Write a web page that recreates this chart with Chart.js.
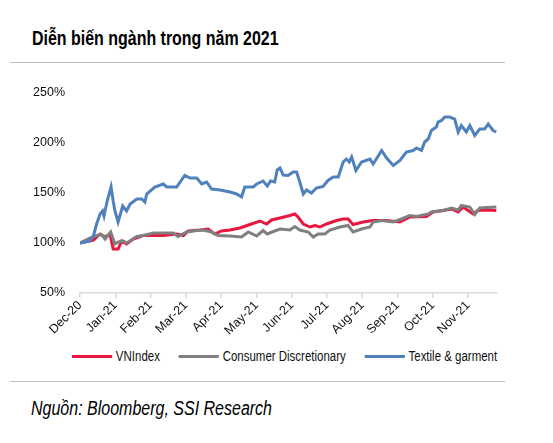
<!DOCTYPE html>
<html>
<head>
<meta charset="utf-8">
<script src="https://cdn.jsdelivr.net/npm/chart.js@4.4.1/dist/chart.umd.min.js"></script>
<style>
  body { margin: 0; background: #fff; width: 553px; height: 443px; overflow: hidden; position: relative; }
  .title { position: absolute; left: 32px; top: 26px; font: bold 21px "Liberation Sans", Arial, sans-serif; color: #000; white-space: nowrap; transform: scaleX(0.76); transform-origin: 0 0; }
  .rule { position: absolute; left: 10px; width: 495px; height: 0; border-top: 1.5px solid #bfbfbf; }
  .source { position: absolute; left: 31px; top: 397px; font: italic 20px "Liberation Sans", Arial, sans-serif; color: #000; white-space: nowrap; transform: scaleX(0.8); transform-origin: 0 0; }
  #wrap { position: absolute; left: 0; top: 70px; width: 553px; height: 275px; }
  #legend { position: absolute; left: 72px; top: 347px; height: 18px; display: flex; align-items: center; white-space: nowrap;
            font: 14px "Liberation Sans", Arial, sans-serif; color: #111; transform: scaleX(0.82); transform-origin: 0 0; }
  #legend .item { display: flex; align-items: center; margin-right: 23px; }
  #legend .swatch { width: 49px; height: 3px; margin-right: 4.5px; }
</style>
</head>
<body>
<div class="title">Diễn biến ngành trong năm 2021</div>
<div class="rule" style="top:62px"></div>
<div id="wrap"><canvas id="sector-diagram"></canvas></div>
<div id="legend"></div>
<div class="rule" style="top:381px"></div>
<div class="source">Nguồn: Bloomberg, SSI Research</div>
<script>
// x = months since the Dec-20 tick, y = index level (%)
const monthLabels = ['Dec-20', 'Jan-21', 'Feb-21', 'Mar-21', 'Apr-21', 'May-21', 'Jun-21', 'Jul-21', 'Aug-21', 'Sep-21', 'Oct-21', 'Nov-21'];

const vnIndex = [
    {x: 0, y: 100}, {x: 0.38, y: 103}, {x: 0.57, y: 109}, {x: 0.71, y: 106}, {x: 0.85, y: 109},
    {x: 0.94, y: 94}, {x: 1.08, y: 94}, {x: 1.18, y: 102}, {x: 1.32, y: 99}, {x: 1.51, y: 104},
    {x: 1.79, y: 107.5}, {x: 2.08, y: 107.5}, {x: 2.36, y: 107.5}, {x: 2.74, y: 109}, {x: 2.93, y: 107.5},
    {x: 3.07, y: 112}, {x: 3.40, y: 113}, {x: 3.63, y: 114}, {x: 3.82, y: 109}, {x: 4.01, y: 112},
    {x: 4.25, y: 113}, {x: 4.53, y: 115}, {x: 4.82, y: 118.5}, {x: 5.10, y: 122}, {x: 5.29, y: 119},
    {x: 5.43, y: 123}, {x: 5.67, y: 125}, {x: 5.95, y: 127.5}, {x: 6.09, y: 129}, {x: 6.18, y: 126},
    {x: 6.33, y: 119}, {x: 6.52, y: 116}, {x: 6.66, y: 117.5}, {x: 6.80, y: 116}, {x: 6.99, y: 119},
    {x: 7.27, y: 122.5}, {x: 7.46, y: 124}, {x: 7.60, y: 124}, {x: 7.74, y: 118.5}, {x: 8.03, y: 121},
    {x: 8.31, y: 122.5}, {x: 8.69, y: 122.5}, {x: 9.07, y: 121}, {x: 9.35, y: 126}, {x: 9.82, y: 126.5},
    {x: 10.01, y: 131}, {x: 10.29, y: 132.5}, {x: 10.53, y: 134}, {x: 10.72, y: 131}, {x: 10.86, y: 136},
    {x: 11.14, y: 129}, {x: 11.28, y: 132.5}, {x: 11.52, y: 133}, {x: 11.80, y: 132.5},
];

const consumerDisc = [
    {x: 0, y: 100}, {x: 0.38, y: 106.5}, {x: 0.61, y: 108.5}, {x: 0.71, y: 104}, {x: 0.87, y: 111},
    {x: 0.99, y: 99}, {x: 1.08, y: 101}, {x: 1.23, y: 102}, {x: 1.32, y: 100}, {x: 1.61, y: 106.5},
    {x: 1.79, y: 107.5}, {x: 2.08, y: 110}, {x: 2.36, y: 110}, {x: 2.64, y: 110}, {x: 2.78, y: 106.5},
    {x: 3.02, y: 111}, {x: 3.31, y: 112.5}, {x: 3.49, y: 113}, {x: 3.73, y: 111}, {x: 3.92, y: 107.5},
    {x: 4.25, y: 107}, {x: 4.58, y: 106}, {x: 4.77, y: 111}, {x: 5.01, y: 107}, {x: 5.19, y: 112.5},
    {x: 5.31, y: 109}, {x: 5.48, y: 111.5}, {x: 5.67, y: 114}, {x: 5.95, y: 113}, {x: 6.09, y: 116.5},
    {x: 6.23, y: 113}, {x: 6.47, y: 111}, {x: 6.61, y: 106}, {x: 6.75, y: 109}, {x: 6.94, y: 109},
    {x: 7.08, y: 113}, {x: 7.37, y: 116}, {x: 7.60, y: 117.5}, {x: 7.74, y: 111}, {x: 7.98, y: 114},
    {x: 8.22, y: 116}, {x: 8.31, y: 121}, {x: 8.55, y: 122.5}, {x: 8.88, y: 121}, {x: 9.11, y: 124},
    {x: 9.35, y: 127.5}, {x: 9.54, y: 126.5}, {x: 9.87, y: 129}, {x: 9.96, y: 131}, {x: 10.29, y: 132.5},
    {x: 10.53, y: 135}, {x: 10.72, y: 133}, {x: 10.81, y: 137.5}, {x: 11.05, y: 136}, {x: 11.19, y: 128.5},
    {x: 11.33, y: 135}, {x: 11.80, y: 136},
];

const textileGarment = [
    {x: 0, y: 100}, {x: 0.28, y: 102}, {x: 0.38, y: 107}, {x: 0.47, y: 119}, {x: 0.57, y: 129},
    {x: 0.64, y: 132}, {x: 0.68, y: 127}, {x: 0.77, y: 142}, {x: 0.88, y: 156}, {x: 0.94, y: 142},
    {x: 0.99, y: 132}, {x: 1.08, y: 121}, {x: 1.21, y: 137}, {x: 1.32, y: 132}, {x: 1.42, y: 139},
    {x: 1.61, y: 144}, {x: 1.75, y: 144}, {x: 1.84, y: 141}, {x: 1.89, y: 149}, {x: 2.12, y: 156},
    {x: 2.36, y: 159}, {x: 2.46, y: 156}, {x: 2.74, y: 156}, {x: 2.97, y: 167.5}, {x: 3.12, y: 165},
    {x: 3.31, y: 165}, {x: 3.45, y: 159}, {x: 3.59, y: 161}, {x: 3.73, y: 154}, {x: 3.97, y: 153},
    {x: 4.25, y: 151}, {x: 4.44, y: 149}, {x: 4.58, y: 146}, {x: 4.67, y: 156}, {x: 4.91, y: 156},
    {x: 5.01, y: 159}, {x: 5.19, y: 162}, {x: 5.31, y: 157}, {x: 5.40, y: 162}, {x: 5.52, y: 161},
    {x: 5.59, y: 173}, {x: 5.67, y: 175}, {x: 5.76, y: 168}, {x: 5.90, y: 167.5}, {x: 6.04, y: 171},
    {x: 6.14, y: 171}, {x: 6.23, y: 161}, {x: 6.33, y: 149}, {x: 6.42, y: 153}, {x: 6.56, y: 150},
    {x: 6.70, y: 155}, {x: 6.89, y: 156.5}, {x: 7.03, y: 162.5}, {x: 7.18, y: 166}, {x: 7.32, y: 166},
    {x: 7.46, y: 181}, {x: 7.55, y: 184}, {x: 7.63, y: 181}, {x: 7.70, y: 186}, {x: 7.82, y: 172.5},
    {x: 7.98, y: 181}, {x: 8.22, y: 184}, {x: 8.31, y: 179}, {x: 8.55, y: 192.5}, {x: 8.69, y: 185},
    {x: 8.88, y: 177.5}, {x: 9.07, y: 182.5}, {x: 9.25, y: 191}, {x: 9.44, y: 192.5}, {x: 9.54, y: 195},
    {x: 9.68, y: 192.5}, {x: 9.77, y: 201}, {x: 9.87, y: 204}, {x: 9.96, y: 212.5}, {x: 10.10, y: 216},
    {x: 10.15, y: 221}, {x: 10.25, y: 222.5}, {x: 10.34, y: 226}, {x: 10.48, y: 226}, {x: 10.62, y: 224},
    {x: 10.72, y: 211}, {x: 10.81, y: 217.5}, {x: 10.95, y: 211}, {x: 11.05, y: 217.5}, {x: 11.19, y: 207.5},
    {x: 11.33, y: 214}, {x: 11.47, y: 214}, {x: 11.57, y: 219}, {x: 11.71, y: 212.5}, {x: 11.80, y: 211},
];

const labelFont = {family: '"Liberation Sans", Arial, sans-serif', size: 12.5};

const sectorChart = new Chart("sector-diagram", {
    type: "scatter",
    data: {
        datasets: [
            {
                label: "VNIndex",
                showLine: true,
                pointRadius: 0,
                borderWidth: 3,
                borderColor: "#E8173F",
                backgroundColor: "#E8173F",
                order: 3,
                data: vnIndex,
            },
            {
                label: "Consumer Discretionary",
                showLine: true,
                pointRadius: 0,
                borderWidth: 3,
                borderColor: "#808080",
                backgroundColor: "#808080",
                order: 2,
                data: consumerDisc,
            },
            {
                label: "Textile & garment",
                showLine: true,
                pointRadius: 0,
                borderWidth: 3,
                borderColor: "#4F81BD",
                backgroundColor: "#4F81BD",
                order: 1,
                data: textileGarment,
            }
        ]
    },
    options: {
        responsive: true,
        maintainAspectRatio: false,
        animation: false,
        layout: {padding: {left: 0, right: 56, top: 23, bottom: 0}},
        plugins: {
            tooltip: {enabled: false},
            legend: {display: false}
        },
        scales: {
            x: {
                type: 'linear',
                min: 0,
                max: 11.82,
                afterBuildTicks: function (scale) {
                    scale.ticks = monthLabels.map((m, i) => ({value: i}));
                },
                afterFit: function (scale) { scale.height = 52; },
                grid: {drawOnChartArea: false, drawTicks: true, tickLength: 5, color: '#d9d9d9', lineWidth: 1.5},
                border: {color: '#d9d9d9', width: 1.5},
                ticks: {
                    minRotation: 45,
                    maxRotation: 45,
                    padding: 0,
                    color: '#111',
                    font: labelFont,
                    callback: function (value) { return monthLabels[value]; }
                }
            },
            y: {
                min: 50,
                max: 250,
                afterFit: function (scale) { scale.width = 80; },
                grid: {display: false, drawTicks: false},
                border: {display: false},
                ticks: {
                    stepSize: 50,
                    padding: 15,
                    color: '#111',
                    font: labelFont,
                    callback: function (value) { return value + '%'; }
                }
            }
        }
    }
});

// legend built from the chart's own legend items, in dataset order
const legendBox = document.getElementById('legend');
Chart.defaults.plugins.legend.labels.generateLabels(sectorChart)
    .sort((a, b) => a.datasetIndex - b.datasetIndex)
    .forEach(function (item) {
        const el = document.createElement('div');
        el.className = 'item';
        const sw = document.createElement('span');
        sw.className = 'swatch';
        sw.style.background = item.strokeStyle;
        el.appendChild(sw);
        el.appendChild(document.createTextNode(item.text));
        legendBox.appendChild(el);
    });
</script>
</body>
</html>
